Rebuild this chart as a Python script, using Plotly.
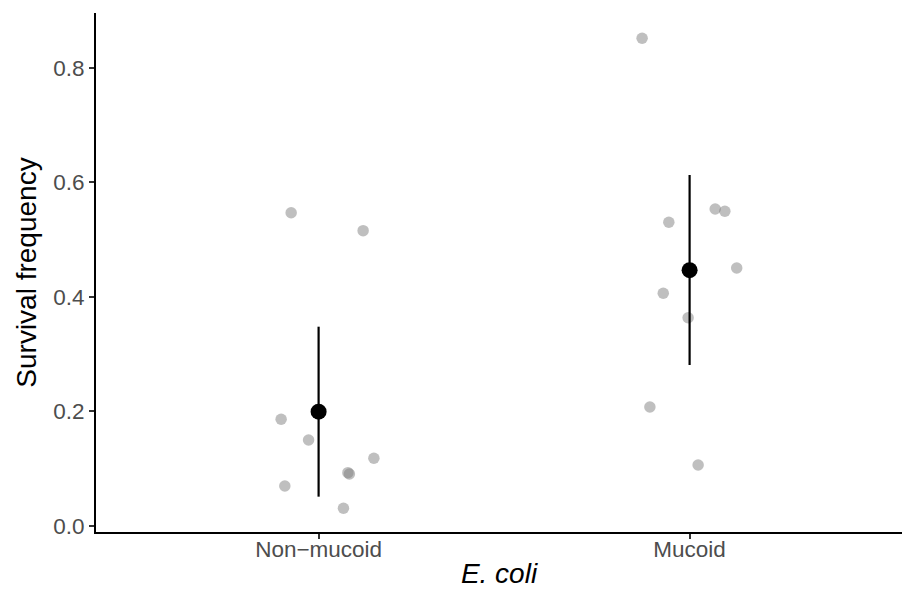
import plotly.graph_objects as go

categories = ["Non\u2212mucoid", "Mucoid"]

# individual observations (survival frequency) and their horizontal jitter offsets
nonmucoid_vals = [0.5472, 0.5158, 0.1864, 0.1502, 0.1183, 0.0908, 0.0931, 0.0699, 0.0309]
nonmucoid_jit = [-0.074, 0.120, -0.101, -0.027, 0.149, 0.083, 0.079, -0.091, 0.067]
mucoid_vals = [0.8519, 0.5537, 0.5497, 0.5305, 0.4507, 0.4065, 0.3638, 0.2079, 0.1066]
mucoid_jit = [-0.128, 0.069, 0.095, -0.056, 0.127, -0.071, -0.004, -0.107, 0.023]

# summary: mean and interval
means = [0.1997, 0.4468]
err_plus = [0.1484, 0.1663]
err_minus = [0.1485, 0.1656]

y_ticks = [0.0, 0.2, 0.4, 0.6, 0.8]
y_tick_text = ["0.0", "0.2", "0.4", "0.6", "0.8"]

fig = go.Figure()

for i, (vals, jit) in enumerate([(nonmucoid_vals, nonmucoid_jit), (mucoid_vals, mucoid_jit)]):
    fig.add_trace(go.Scatter(
        x=[i + 1 + j for j in jit], y=vals, mode="markers",
        marker=dict(size=11.5, color="rgba(127,127,127,0.5)", line=dict(width=0)),
        showlegend=False, hoverinfo="y"))

fig.add_trace(go.Scatter(
    x=[1, 2], y=means, mode="markers",
    marker=dict(size=16, color="black", line=dict(width=0)),
    error_y=dict(type="data", symmetric=False, array=err_plus, arrayminus=err_minus,
                 width=0, thickness=2.2, color="black"),
    showlegend=False))

fig.update_layout(
    width=902, height=598,
    margin=dict(l=96, r=0, t=13, b=66, autoexpand=False),
    plot_bgcolor="white", paper_bgcolor="white",
    font=dict(family="Liberation Sans, Arial, sans-serif"),
)
fig.update_xaxes(
    range=[0.4, 0.4 + 806 / 371], automargin=False,
    tickmode="array", tickvals=[1, 2], ticktext=categories,
    ticks="outside", ticklen=5, tickwidth=1.5, tickcolor="#333333",
    tickfont=dict(size=22.5, color="#4D4D4D"), ticklabelstandoff=-9,
    showline=True, linecolor="black", linewidth=2,
    showgrid=False, zeroline=False,
    title=dict(text="<i>E. coli</i>", font=dict(size=28, color="black"), standoff=2),
)
fig.update_yaxes(
    range=[-0.0105, 0.896], automargin=False,
    tickmode="array", tickvals=y_ticks, ticktext=y_tick_text,
    ticks="outside", ticklen=5, tickwidth=1.5, tickcolor="#333333",
    tickfont=dict(size=22.5, color="#4D4D4D"),
    showline=True, linecolor="black", linewidth=2,
    showgrid=False, zeroline=False,
    title=dict(text="Survival frequency", font=dict(size=28, color="black"), standoff=8),
)

fig.write_html("out.html", config={"displayModeBar": False},
               post_script="document.body.style.margin='0';")
